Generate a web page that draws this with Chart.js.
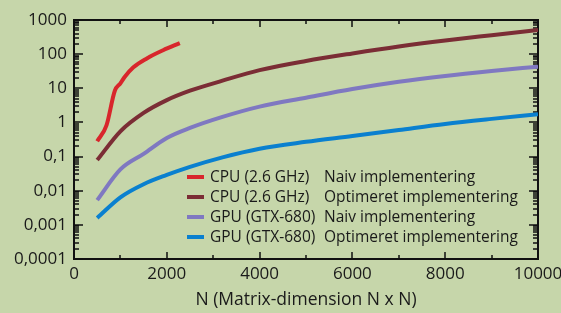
<!DOCTYPE html>
<html>
<head>
<meta charset="utf-8">
<script src="https://cdn.jsdelivr.net/npm/chart.js@4.4.0/dist/chart.umd.min.js"></script>
<style>
    html, body { margin: 0; padding: 0; background: #c6d6aa; }
    #wrap { width: 561px; height: 313px; }
</style>
</head>
<body>
<div id="wrap"><canvas id="chart" width="561" height="313"></canvas></div>
<script>
// Matrix multiplication run time (seconds) vs matrix size N

const cpuNaivN = [500, 700, 880, 1000, 1100, 1280, 1570, 1920, 2280];
const cpuNaivT = [0.28, 0.82, 8.5, 14, 22, 41, 75, 130, 210];

const cpuOptN = [500, 1000, 1500, 2000, 2500, 3200, 4000, 5000, 6000, 7000, 8000, 9000, 10000];
const cpuOptT = [0.079, 0.55, 1.9, 4.5, 8.5, 16.7, 34, 63, 105, 168, 252, 360, 510];

const gpuNaivN = [500, 1000, 1500, 2000, 2500, 3200, 4000, 5000, 6000, 7000, 8000, 9000, 10000];
const gpuNaivT = [0.0053, 0.042, 0.12, 0.35, 0.69, 1.45, 2.9, 5.3, 9.5, 15.5, 23, 32, 43];

const gpuOptN = [500, 1000, 1500, 2000, 2500, 3200, 4000, 5000, 6000, 7000, 8000, 9000, 10000];
const gpuOptT = [0.0016, 0.0064, 0.0155, 0.029, 0.05, 0.095, 0.17, 0.27, 0.40, 0.60, 0.90, 1.27, 1.75];

const hwLabels = ['CPU (2.6 GHz)', 'CPU (2.6 GHz)', 'GPU (GTX-680)', 'GPU (GTX-680)'];
const implLabels = ['Naiv implementering', 'Optimeret implementering', 'Naiv implementering', 'Optimeret implementering'];
const seriesColors = ['#d8262c', '#7b2d35', '#7f78c1', '#0a80cf'];

const yTickValues = [0.0001, 0.001, 0.01, 0.1, 1, 10, 100, 1000];
const xTitle = 'N (Matrix-dimension N x N)';

const FONT = "'Open Sans', sans-serif";
const TEXT = '#1a1a1a';
const AXIS = '#111';

function toPoints(xs, ys) {
    return xs.map((x, i) => ({ x: x, y: ys[i] }));
}

const seriesData = [
    toPoints(cpuNaivN, cpuNaivT),
    toPoints(cpuOptN, cpuOptT),
    toPoints(gpuNaivN, gpuNaivT),
    toPoints(gpuOptN, gpuOptT)
];

// inward tick marks on all four sides
const ticksPlugin = {
    id: 'inwardTicks',
    beforeDatasetsDraw(chart) {
        const g = chart.ctx;
        const area = chart.chartArea;
        const sx = chart.scales.x;
        const sy = chart.scales.y;

        g.save();
        g.strokeStyle = AXIS;
        g.lineWidth = 1.5;
        g.beginPath();
        for (let e = -4; e <= 3; e++) {
            for (let k = 1; k <= 9; k++) {
                const v = k * Math.pow(10, e);
                if (v > sy.max * 1.0001) break;
                const py = Math.round(sy.getPixelForValue(v));
                const len = k === 1 ? 9 : 5;
                g.moveTo(area.left, py);
                g.lineTo(area.left + len, py);
                g.moveTo(area.right, py);
                g.lineTo(area.right - len, py);
            }
        }
        for (let n = sx.min; n <= sx.max; n += 1000) {
            const px = Math.round(sx.getPixelForValue(n));
            const len = n % 2000 === 0 ? 7 : 4;
            g.moveTo(px, area.bottom);
            g.lineTo(px, area.bottom - len);
            g.moveTo(px, area.top);
            g.lineTo(px, area.top + len);
        }
        g.stroke();
        g.restore();
    }
};

// legend sits inside the plot, two text columns
const legendPlugin = {
    id: 'insideLegend',
    afterDraw(chart) {
        const g = chart.ctx;
        g.save();
        g.font = '15.5px ' + FONT;
        g.fillStyle = TEXT;
        g.textBaseline = 'middle';
        chart.data.datasets.forEach((ds, i) => {
            const y = 177 + i * 20;
            g.strokeStyle = ds.borderColor;
            g.lineWidth = 4;
            g.beginPath();
            g.moveTo(187, y);
            g.lineTo(204, y);
            g.stroke();
            g.fillText(hwLabels[i], 210, y + 1);
            g.fillText(implLabels[i], 324, y + 1);
        });
        g.restore();
    }
};

const frameAxis = {
    display: true,
    grid: { display: false, drawTicks: false },
    border: { display: true, color: AXIS, width: 2 },
    ticks: { display: false }
};

new Chart(document.getElementById('chart'), {
    type: 'line',
    data: {
        datasets: seriesData.map((pts, i) => ({
            label: hwLabels[i] + ' ' + implLabels[i],
            data: pts,
            borderColor: seriesColors[i],
            backgroundColor: seriesColors[i],
            borderWidth: 4,
            pointRadius: 0,
            cubicInterpolationMode: 'monotone',
            fill: false
        }))
    },
    options: {
        responsive: false,
        animation: false,
        layout: { padding: { left: 0, top: 20, right: 23, bottom: 0 } },
        plugins: {
            legend: { display: false },
            tooltip: { enabled: false }
        },
        scales: {
            x: {
                type: 'linear',
                position: 'bottom',
                min: 0,
                max: 10000,
                grid: { display: false, drawTicks: false },
                border: { display: true, color: AXIS, width: 2 },
                ticks: {
                    stepSize: 2000,
                    padding: 5,
                    maxRotation: 0,
                    color: TEXT,
                    font: { family: FONT, size: 17 },
                    callback: (v) => String(v)
                },
                title: {
                    display: true,
                    text: xTitle,
                    color: TEXT,
                    font: { family: FONT, size: 17.5 },
                    padding: { top: 0, bottom: 2 }
                },
                afterFit(scale) {
                    scale.height = 54;
                    scale.paddingRight = 0;
                    scale.paddingLeft = 0;
                }
            },
            x2: Object.assign({ type: 'linear', position: 'top' }, frameAxis),
            y: {
                type: 'logarithmic',
                position: 'left',
                min: 0.0001,
                max: 1000,
                grid: { display: false, drawTicks: false },
                border: { display: true, color: AXIS, width: 2 },
                ticks: {
                    padding: 7,
                    color: TEXT,
                    font: { family: FONT, size: 17 },
                    callback: (v) => String(v).replace('.', ',')
                },
                afterBuildTicks(scale) {
                    scale.ticks = yTickValues.map(v => ({ value: v }));
                },
                afterFit(scale) { scale.width = 74; }
            },
            y2: Object.assign({ type: 'linear', position: 'right' }, frameAxis)
        }
    },
    plugins: [ticksPlugin, legendPlugin]
});
</script>
</body>
</html>
